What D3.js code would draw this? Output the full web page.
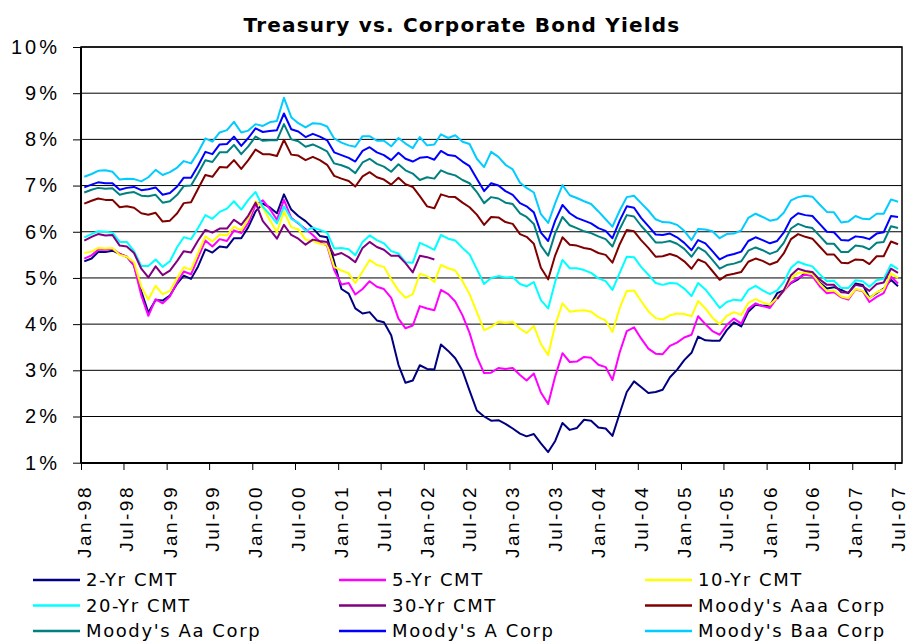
<!DOCTYPE html>
<html>
<head>
<meta charset="utf-8">
<script src="https://cdn.jsdelivr.net/npm/d3@7/dist/d3.min.js"></script>
<style>
  body { margin: 0; background: #fff; }
  svg { display: block; font-family: 'DejaVu Sans', Verdana, sans-serif; }
  .grid line { stroke: #000; stroke-width: 1; }
  .axis path { display: none; }
  .axis line { stroke: #000; stroke-width: 1; }
  .axis text { font-size: 19px; fill: #000; }
  .legend text { font-size: 18px; letter-spacing: 1.6px; fill: #000; }
</style>
</head>
<body>
<div class="chart"></div>
<script>
//Data: monthly yields (%), Jan-1998 .. Jul-2007
const seriesNames = ['2-Yr CMT', '5-Yr CMT', '10-Yr CMT', '20-Yr CMT', '30-Yr CMT',
  "Moody's Aaa Corp", "Moody's Aa Corp", "Moody's A Corp", "Moody's Baa Corp"];
const seriesColors = ['#000080', '#ff00ff', '#ffff00', '#00ffff', '#800080',
  '#800000', '#008080', '#0000ff', '#00ccff'];
const yTicks = [1, 2, 3, 4, 5, 6, 7, 8, 9, 10];

const cmt2 = [
  5.36, 5.42, 5.56, 5.56, 5.59, 5.52, 5.46, 5.27, 4.71, 4.25, 4.52, 4.51,
  4.62, 4.88, 5.05, 4.98, 5.25, 5.62, 5.55, 5.68, 5.66, 5.86, 5.86, 6.10,
  6.44, 6.61, 6.53, 6.40, 6.81, 6.48, 6.34, 6.23, 6.08, 5.91, 5.88, 5.35,
  4.76, 4.66, 4.34, 4.23, 4.26, 4.08, 4.04, 3.76, 3.12, 2.73, 2.78, 3.11,
  3.03, 3.02, 3.56, 3.42, 3.26, 2.99, 2.56, 2.13, 2.00, 1.91, 1.92, 1.84,
  1.74, 1.63, 1.57, 1.62, 1.42, 1.23, 1.47, 1.86, 1.71, 1.75, 1.93, 1.91,
  1.76, 1.74, 1.58, 2.07, 2.53, 2.76, 2.64, 2.51, 2.53, 2.58, 2.85, 3.01,
  3.22, 3.38, 3.73, 3.65, 3.64, 3.64, 3.87, 4.04, 3.95, 4.27, 4.42, 4.40,
  4.40, 4.67, 4.73, 4.89, 4.97, 5.12, 5.12, 4.90, 4.77, 4.80, 4.74, 4.67,
  4.88, 4.85, 4.57, 4.67, 4.77, 4.96, 4.82
];
const cmt5 = [
  5.42, 5.49, 5.61, 5.61, 5.63, 5.52, 5.46, 5.27, 4.62, 4.18, 4.54, 4.45,
  4.60, 4.91, 5.14, 5.08, 5.44, 5.81, 5.68, 5.84, 5.80, 6.03, 5.97, 6.19,
  6.58, 6.68, 6.50, 6.26, 6.69, 6.30, 6.18, 6.06, 5.93, 5.78, 5.70, 5.17,
  4.86, 4.89, 4.64, 4.76, 4.93, 4.81, 4.76, 4.57, 4.12, 3.91, 3.97, 4.39,
  4.34, 4.30, 4.74, 4.65, 4.49, 4.19, 3.81, 3.29, 2.94, 2.95, 3.05, 3.03,
  3.05, 2.90, 2.78, 2.93, 2.52, 2.27, 2.87, 3.37, 3.18, 3.19, 3.29, 3.27,
  3.12, 3.07, 2.79, 3.39, 3.85, 3.93, 3.69, 3.47, 3.36, 3.35, 3.53, 3.60,
  3.71, 3.77, 4.17, 4.00, 3.85, 3.77, 3.98, 4.12, 4.01, 4.33, 4.45, 4.39,
  4.35, 4.57, 4.72, 4.90, 5.00, 5.07, 5.04, 4.82, 4.67, 4.69, 4.58, 4.53,
  4.75, 4.71, 4.48, 4.59, 4.67, 5.03, 4.88
];
const cmt10 = [
  5.54, 5.57, 5.65, 5.64, 5.65, 5.50, 5.46, 5.34, 4.81, 4.53, 4.83, 4.65,
  4.72, 5.00, 5.23, 5.18, 5.54, 5.90, 5.79, 5.94, 5.92, 6.11, 6.03, 6.28,
  6.66, 6.52, 6.26, 5.99, 6.44, 6.10, 6.05, 5.83, 5.80, 5.74, 5.72, 5.24,
  5.16, 5.10, 4.89, 5.14, 5.39, 5.28, 5.24, 4.97, 4.73, 4.57, 4.65, 5.09,
  5.04, 4.91, 5.28, 5.21, 5.16, 4.93, 4.65, 4.26, 3.87, 3.94, 4.05, 4.03,
  4.05, 3.90, 3.81, 3.96, 3.57, 3.33, 3.98, 4.45, 4.27, 4.29, 4.30, 4.27,
  4.15, 4.08, 3.83, 4.35, 4.72, 4.73, 4.50, 4.28, 4.13, 4.10, 4.19, 4.23,
  4.22, 4.17, 4.50, 4.34, 4.14, 4.00, 4.18, 4.26, 4.20, 4.46, 4.54, 4.47,
  4.42, 4.57, 4.72, 4.99, 5.11, 5.11, 5.09, 4.88, 4.72, 4.73, 4.60, 4.56,
  4.76, 4.72, 4.56, 4.69, 4.75, 5.10, 5.00
];
const cmt20 = [
  5.88, 5.95, 6.01, 6.00, 5.98, 5.78, 5.78, 5.58, 5.26, 5.26, 5.40, 5.24,
  5.36, 5.67, 5.88, 5.84, 6.08, 6.36, 6.28, 6.43, 6.50, 6.66, 6.48, 6.69,
  6.86, 6.54, 6.38, 6.18, 6.55, 6.28, 6.20, 6.02, 6.09, 6.04, 5.98, 5.64,
  5.65, 5.62, 5.49, 5.78, 5.92, 5.82, 5.75, 5.58, 5.53, 5.34, 5.33, 5.76,
  5.69, 5.61, 5.93, 5.85, 5.81, 5.65, 5.51, 5.19, 4.87, 5.00, 5.04, 5.01,
  5.02, 4.87, 4.82, 4.91, 4.52, 4.34, 4.92, 5.39, 5.21, 5.21, 5.17, 5.11,
  4.99, 4.93, 4.74, 5.11, 5.46, 5.45, 5.24, 5.07, 4.89, 4.85, 4.89, 4.88,
  4.77, 4.61, 4.89, 4.75, 4.56, 4.35, 4.48, 4.53, 4.51, 4.74, 4.83, 4.73,
  4.65, 4.73, 4.91, 5.22, 5.35, 5.29, 5.25, 5.08, 4.93, 4.94, 4.78, 4.78,
  4.95, 4.93, 4.81, 4.95, 4.98, 5.29, 5.19
];
// 30-yr was not issued Mar-2002 .. Jan-2006
const cmt30 = [
  5.81, 5.89, 5.95, 5.92, 5.93, 5.70, 5.68, 5.54, 5.20, 5.01, 5.25, 5.06,
  5.16, 5.37, 5.58, 5.55, 5.81, 6.04, 5.98, 6.07, 6.07, 6.26, 6.15, 6.35,
  6.63, 6.23, 6.05, 5.85, 6.15, 5.93, 5.85, 5.72, 5.83, 5.80, 5.78, 5.49,
  5.54, 5.45, 5.34, 5.65, 5.78, 5.67, 5.61, 5.48, 5.48, 5.32, 5.12, 5.48,
  5.45, 5.40, null, null, null, null, null, null, null, null, null, null,
  null, null, null, null, null, null, null, null, null, null, null, null,
  null, null, null, null, null, null, null, null, null, null, null, null,
  null, null, null, null, null, null, null, null, null, null, null, null,
  null, 4.54, 4.73, 5.06, 5.20, 5.15, 5.13, 4.97, 4.85, 4.85, 4.69, 4.68,
  4.85, 4.82, 4.72, 4.87, 4.90, 5.20, 5.11
];
const aaa = [
  6.61, 6.67, 6.72, 6.69, 6.69, 6.53, 6.55, 6.52, 6.40, 6.37, 6.41, 6.22,
  6.24, 6.40, 6.62, 6.64, 6.93, 7.23, 7.19, 7.40, 7.39, 7.55, 7.36, 7.55,
  7.78, 7.68, 7.68, 7.64, 7.99, 7.67, 7.65, 7.55, 7.62, 7.55, 7.45, 7.21,
  7.15, 7.10, 6.98, 7.20, 7.29, 7.18, 7.13, 7.02, 7.17, 7.03, 6.97, 6.77,
  6.55, 6.51, 6.81, 6.76, 6.75, 6.63, 6.53, 6.37, 6.15, 6.32, 6.31, 6.21,
  6.17, 5.95, 5.89, 5.74, 5.22, 4.97, 5.49, 5.88, 5.72, 5.70, 5.65, 5.62,
  5.54, 5.50, 5.33, 5.73, 6.04, 6.01, 5.82, 5.65, 5.46, 5.47, 5.52, 5.47,
  5.36, 5.20, 5.40, 5.33, 5.15, 4.96, 5.06, 5.09, 5.13, 5.35, 5.42, 5.37,
  5.29, 5.35, 5.53, 5.84, 5.95, 5.89, 5.85, 5.68, 5.51, 5.51, 5.33, 5.32,
  5.40, 5.39, 5.30, 5.47, 5.47, 5.79, 5.73
];
const aa = [
  6.85, 6.91, 6.95, 6.93, 6.94, 6.80, 6.84, 6.86, 6.78, 6.77, 6.80, 6.63,
  6.66, 6.80, 6.99, 7.00, 7.26, 7.55, 7.51, 7.72, 7.72, 7.88, 7.68, 7.85,
  8.06, 7.97, 7.98, 7.98, 8.33, 8.00, 7.96, 7.84, 7.89, 7.82, 7.74, 7.48,
  7.44, 7.38, 7.27, 7.50, 7.58, 7.47, 7.41, 7.30, 7.46, 7.33, 7.26, 7.12,
  7.18, 7.15, 7.33, 7.26, 7.22, 7.12, 7.05, 6.86, 6.62, 6.75, 6.72, 6.63,
  6.60, 6.40, 6.32, 6.17, 5.70, 5.48, 5.97, 6.32, 6.14, 6.08, 6.01, 5.97,
  5.90, 5.84, 5.68, 6.06, 6.36, 6.33, 6.13, 5.96, 5.77, 5.77, 5.80, 5.74,
  5.63, 5.46, 5.66, 5.57, 5.39, 5.20, 5.28, 5.31, 5.36, 5.59, 5.66, 5.60,
  5.52, 5.58, 5.76, 6.07, 6.17, 6.11, 6.08, 5.91, 5.74, 5.74, 5.56, 5.56,
  5.70, 5.68, 5.62, 5.76, 5.78, 6.12, 6.08
];
const aRated = [
  6.96, 7.02, 7.07, 7.05, 7.05, 6.91, 6.95, 6.97, 6.90, 6.92, 6.96, 6.80,
  6.84, 6.98, 7.17, 7.17, 7.43, 7.73, 7.68, 7.89, 7.90, 8.06, 7.86, 8.03,
  8.24, 8.16, 8.18, 8.20, 8.56, 8.22, 8.17, 8.05, 8.12, 8.06, 7.98, 7.72,
  7.66, 7.60, 7.52, 7.75, 7.83, 7.72, 7.66, 7.55, 7.71, 7.58, 7.52, 7.60,
  7.62, 7.56, 7.75, 7.66, 7.64, 7.52, 7.42, 7.15, 6.88, 7.05, 7.00, 6.88,
  6.80, 6.62, 6.55, 6.42, 5.98, 5.80, 6.24, 6.58, 6.40, 6.30, 6.24, 6.18,
  6.08, 6.02, 5.86, 6.24, 6.55, 6.52, 6.30, 6.12, 5.94, 5.93, 5.96, 5.88,
  5.76, 5.60, 5.82, 5.75, 5.58, 5.40, 5.48, 5.52, 5.57, 5.80, 5.88, 5.82,
  5.75, 5.80, 5.98, 6.28, 6.40, 6.36, 6.34, 6.17, 6.00, 5.99, 5.82, 5.81,
  5.90, 5.88, 5.84, 5.96, 5.99, 6.34, 6.32
];
const baa = [
  7.19, 7.25, 7.32, 7.33, 7.30, 7.13, 7.15, 7.14, 7.09, 7.18, 7.34, 7.23,
  7.29, 7.39, 7.53, 7.48, 7.72, 8.02, 7.95, 8.15, 8.20, 8.38, 8.15, 8.19,
  8.33, 8.29, 8.37, 8.40, 8.90, 8.48, 8.35, 8.26, 8.35, 8.34, 8.28, 8.02,
  7.93, 7.87, 7.84, 8.07, 8.07, 7.97, 7.97, 7.85, 8.03, 7.91, 7.81, 8.05,
  7.87, 7.89, 8.11, 8.03, 8.09, 7.95, 7.90, 7.58, 7.40, 7.73, 7.62, 7.45,
  7.35, 7.06, 6.95, 6.85, 6.38, 6.19, 6.62, 7.01, 6.79, 6.73, 6.66, 6.60,
  6.44, 6.27, 6.11, 6.46, 6.75, 6.78, 6.62, 6.46, 6.27, 6.21, 6.20, 6.15,
  6.02, 5.82, 6.06, 6.05, 6.01, 5.86, 5.95, 5.96, 6.03, 6.30, 6.39, 6.32,
  6.24, 6.27, 6.41, 6.68, 6.75, 6.78, 6.76, 6.59, 6.43, 6.42, 6.20, 6.22,
  6.34, 6.28, 6.27, 6.39, 6.39, 6.70, 6.65
];
const seriesValues = [cmt2, cmt5, cmt10, cmt20, cmt30, aaa, aa, aRated, baa];

//Canvas
const svg_width = 908;
const svg_height = 643;
const plot = {left: 81, right: 902, top: 47, bottom: 463};

const svg = d3.select('.chart').append('svg')
  .attr('width', svg_width).attr('height', svg_height);

// monthly points sit in the middle of each month
const months = d3.timeMonth.range(new Date(1998, 0, 1), new Date(2007, 7, 1))
  .map(m => d3.timeDay.offset(m, 14));

//scale
const xScale = d3.scaleTime()
  .domain([new Date(1998, 0, 1), new Date(2007, 7, 1)])
  .range([plot.left, plot.right]);
const yScale = d3.scaleLinear().domain([1, 10]).range([462.7, plot.top]);

//Title
svg.append('text')
  .attr('x', 462).attr('y', 32)
  .attr('text-anchor', 'middle')
  .style('font-size', '20px').style('font-weight', 'bold')
  .style('letter-spacing', '1.2px')
  .text('Treasury vs. Corporate Bond Yields');

//Gridlines
svg.append('g').attr('class', 'grid')
  .selectAll('line').data(yTicks).join('line')
  .attr('x1', plot.left).attr('x2', plot.right)
  .attr('y1', d => yScale(d)).attr('y2', d => yScale(d));

//Lines
svg.append('clipPath').attr('id', 'plot-clip')
  .append('rect')
  .attr('x', plot.left).attr('y', plot.top)
  .attr('width', plot.right - plot.left).attr('height', plot.bottom - plot.top);

const line = d3.line()
  .defined(d => d.v != null)
  .x(d => xScale(d.date))
  .y(d => yScale(d.v));

svg.append('g').attr('clip-path', 'url(#plot-clip)')
  .selectAll('path').data(seriesValues).join('path')
  .attr('d', vals => line(vals.map((v, i) => ({date: months[i], v: v}))))
  .attr('fill', 'none')
  .attr('stroke', (d, i) => seriesColors[i])
  .attr('stroke-width', 2)
  .attr('stroke-linejoin', 'round');

//Plot frame
svg.append('rect')
  .attr('x', plot.left).attr('y', plot.top)
  .attr('width', plot.right - plot.left).attr('height', plot.bottom - plot.top)
  .attr('fill', 'none').attr('stroke', '#000').attr('stroke-width', 1.5);
svg.append('line')
  .attr('x1', plot.left).attr('x2', plot.left)
  .attr('y1', plot.top).attr('y2', plot.bottom)
  .attr('stroke', '#000').attr('stroke-width', 2);
svg.append('line')
  .attr('x1', plot.left).attr('x2', plot.right)
  .attr('y1', plot.bottom).attr('y2', plot.bottom)
  .attr('stroke', '#000').attr('stroke-width', 2);

//Y axis
const yAxis = d3.axisLeft(yScale).tickValues(yTicks)
  .tickFormat(d => d + '%').tickSizeInner(8).tickSizeOuter(0).tickPadding(16);
svg.append('g').attr('class', 'y axis')
  .attr('transform', `translate(${plot.left},0)`)
  .call(yAxis)
  .selectAll('text').style('font-size', '20px').style('letter-spacing', '3px').attr('dx', '3px');

//X axis
const xAxis = d3.axisBottom(xScale)
  .ticks(d3.timeMonth.every(6))
  .tickFormat(d3.timeFormat('%b-%y'))
  .tickSizeInner(7).tickSizeOuter(0);
const xAxisDraw = svg.append('g').attr('class', 'x axis')
  .attr('transform', `translate(0,${plot.bottom})`)
  .call(xAxis);
xAxisDraw.selectAll('text')
  .attr('transform', 'rotate(-90)')
  .attr('text-anchor', 'end')
  .attr('x', -22).attr('y', 0).attr('dy', '0.5em')
  .style('letter-spacing', '2.5px');

//Legend
const legendCols = [33, 339, 645];
const legendRows = [580, 605.5, 631];
const legend = svg.append('g').attr('class', 'legend')
  .selectAll('g').data(seriesNames).join('g')
  .attr('transform', (d, i) => `translate(${legendCols[i % 3]},${legendRows[Math.floor(i / 3)]})`);
legend.append('line')
  .attr('x1', 0).attr('x2', 47).attr('y1', 0).attr('y2', 0)
  .attr('stroke', (d, i) => seriesColors[i]).attr('stroke-width', 2.5);
legend.append('text')
  .attr('x', 53).attr('y', 0).attr('dy', '0.36em')
  .text(d => d);
</script>
</body>
</html>
